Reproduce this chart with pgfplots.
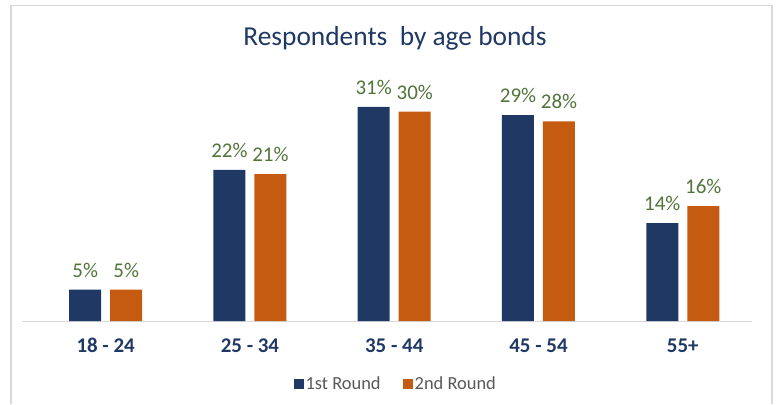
\documentclass[border=0pt]{standalone}
\usepackage{fontspec}
\setmainfont{Carlito}
\usepackage{pgfplots}
\pgfplotsset{compat=1.18}
\usepackage{pgfplotstable}
\definecolor{navy}{HTML}{1F3864}
\definecolor{orng}{HTML}{C55A11}
\definecolor{lblgreen}{HTML}{52733A}
\definecolor{framegray}{HTML}{D9D9D9}
\definecolor{leggray}{HTML}{595959}

\pgfplotstableread{
x v l
0 4.5 5
1 21.6 22
2 30.6 31
3 29.4 29
4 14.0 14
}\first
\pgfplotstableread{
x v l
0 4.5 5
1 21.0 21
2 29.9 30
3 28.5 28
4 16.4 16
}\second

\begin{document}
\begin{tikzpicture}[x=1bp,y=1bp]
\useasboundingbox (0,0) rectangle (779,404);
\draw[framegray, line width=1.5bp] (11,0) -- (11,398.5) -- (772,398.5) -- (772,0);
\node[anchor=base, text=navy, font=\fontsize{27.5}{32}\selectfont] at (395,359) {Respondents\ \ by age bonds};
\begin{axis}[
  at={(22bp,83bp)}, anchor=south west,
  scale only axis, width=730bp, height=245bp,
  xmin=-0.58, xmax=4.48, ymin=0, ymax=35,
  axis y line=none,
  axis x line*=bottom,
  x axis line style={framegray, line width=1bp},
  xtick={0,1,2,3,4},
  xticklabels={18 - 24, 25 - 34, 35 - 44, 45 - 54, 55+},
  major tick length=0pt,
  xticklabel style={font=\bfseries\fontsize{21}{25}\selectfont, text=navy, yshift=-14bp},
  ybar, bar width=32bp,
  point meta=explicit symbolic,
  nodes near coords={\pgfplotspointmeta\%},
  nodes near coords style={anchor=base, yshift=12.5bp, text=lblgreen, font=\fontsize{21}{25}\selectfont},
  legend columns=2,
  legend style={at={(axis description cs:0.512,-0.257)}, anchor=center, draw=none,
    font=\fontsize{18.5}{22}\selectfont, text=leggray,
    /tikz/every even column/.append style={column sep=20bp}},
  legend image code/.code={\fill[#1] (0bp,-5bp) rectangle (10bp,5bp);},
]
\addplot[fill=navy, draw=none, bar shift=-20.5bp] table[x=x,y=v,meta=l]{\first};
\addplot[fill=orng, draw=none, bar shift=20.5bp] table[x=x,y=v,meta=l]{\second};
\legend{1st Round, 2nd Round}
\end{axis}
\end{tikzpicture}
\end{document}
